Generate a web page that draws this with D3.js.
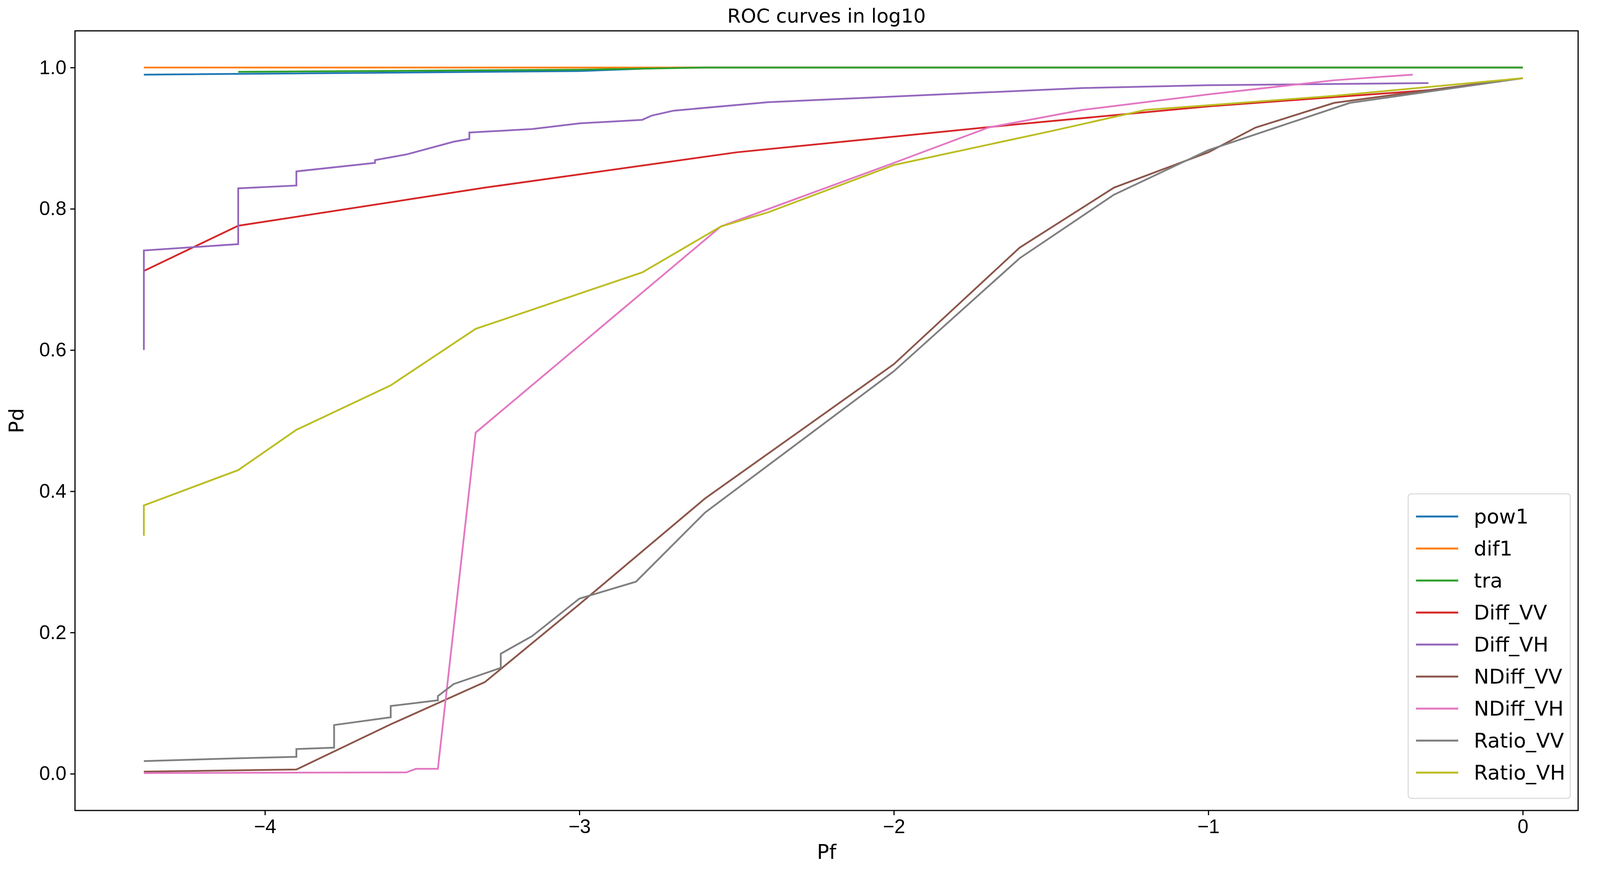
<!DOCTYPE html>
<html><head><meta charset="utf-8">
<script src="https://cdn.jsdelivr.net/npm/d3@7"></script>
<style>body{margin:0;background:#fff}svg{font-family:"DejaVu Sans",sans-serif}</style>
</head><body><svg width="4100" height="2231"></svg>
<script>
var names = ['pow1','dif1','tra','Diff_VV','Diff_VH','NDiff_VV','NDiff_VH','Ratio_VV','Ratio_VH'];
var colors = ['#1f77b4','#ff7f0e','#2ca02c','#d62728','#9467bd','#8c564b','#e377c2','#7f7f7f','#bcbd22'];
var xTicks = [-4,-3,-2,-1,0];
var yTicks = [0,0.2,0.4,0.6,0.8,1.0];

var pow1 = [[-4.385,0.990],[-3,0.995],[-2.7,1.0],[0,1.0]];
var dif1 = [[-4.385,1.0],[0,1.0]];
var tra = [[-4.085,0.994],[-3,0.997],[-2.6,1.0],[0,1.0]];
var diffVV = [[-4.385,0.712],[-4.085,0.776],[-3.3,0.83],[-2.5,0.88],[-1.6,0.92],[-1.0,0.945],[-0.3,0.968]];
var diffVH = [[-4.385,0.6],[-4.385,0.741],[-4.085,0.75],[-4.085,0.829],[-3.9,0.833],[-3.9,0.853],[-3.65,0.865],[-3.65,0.869],[-3.55,0.877],[-3.4,0.895],[-3.35,0.899],[-3.35,0.908],[-3.15,0.913],[-3.0,0.921],[-2.8,0.926],[-2.77,0.932],[-2.7,0.939],[-2.4,0.951],[-2,0.959],[-1.7,0.965],[-1.4,0.971],[-1,0.975],[-0.3,0.978]];
var ndiffVV = [[-4.385,0.003],[-3.9,0.006],[-3.6,0.07],[-3.3,0.13],[-3.0,0.24],[-2.6,0.39],[-2,0.58],[-1.6,0.745],[-1.3,0.83],[-1.0,0.88],[-0.85,0.915],[-0.6,0.95],[-0.3,0.968],[0,0.985]];
var ndiffVH = [[-4.385,0.001],[-3.55,0.002],[-3.52,0.007],[-3.45,0.007],[-3.33,0.483],[-2.55,0.775],[-2,0.865],[-1.7,0.915],[-1.4,0.94],[-1,0.962],[-0.6,0.982],[-0.35,0.99]];
var ratioVV = [[-4.385,0.018],[-4.085,0.022],[-3.9,0.024],[-3.9,0.035],[-3.78,0.037],[-3.78,0.069],[-3.6,0.08],[-3.6,0.096],[-3.45,0.104],[-3.45,0.11],[-3.4,0.127],[-3.25,0.15],[-3.25,0.17],[-3.15,0.195],[-3.0,0.248],[-2.82,0.272],[-2.6,0.37],[-2,0.57],[-1.6,0.73],[-1.3,0.82],[-1,0.883],[-0.55,0.95],[0,0.985]];
var ratioVH = [[-4.385,0.337],[-4.385,0.38],[-4.085,0.43],[-3.9,0.487],[-3.6,0.55],[-3.33,0.63],[-2.8,0.71],[-2.55,0.775],[-2.4,0.795],[-2,0.862],[-1.5,0.91],[-1.2,0.94],[-0.6,0.96],[0,0.985]];
var series = [pow1,dif1,tra,diffVV,diffVH,ndiffVV,ndiffVH,ratioVV,ratioVH];

var L = 192, R = 4040, T = 79, B = 2076;
var svg = d3.select('svg');
var x = d3.scaleLinear().domain([-4.604,0.176]).range([L,R]);
var y = d3.scaleLinear().domain([-0.052,1.052]).range([B,T]);

var line = d3.line().x(function(d){ return x(d[0]); }).y(function(d){ return y(d[1]); });
svg.append('g').selectAll('path').data(series).enter().append('path')
  .attr('d', line).attr('fill','none').attr('stroke-width',4.5)
  .attr('stroke', function(d,i){ return colors[i]; });

var fmtX = function(d){ return d < 0 ? '\u2212' + Math.abs(d) : String(d); };
var gx = svg.append('g').attr('transform','translate(0,'+B+')')
  .call(d3.axisBottom(x).tickValues(xTicks).tickFormat(fmtX).tickSize(12).tickPadding(10));
var gy = svg.append('g').attr('transform','translate('+L+',0)')
  .call(d3.axisLeft(y).tickValues(yTicks).tickFormat(d3.format('.1f')).tickSize(12).tickPadding(10));
[gx,gy].forEach(function(g){
  g.select('.domain').remove();
  g.selectAll('line').attr('stroke','#000').attr('stroke-width',3);
  g.selectAll('text').attr('font-size',50).attr('fill','#000');
});
svg.append('rect').attr('x',L).attr('y',T).attr('width',R-L).attr('height',B-T)
  .attr('fill','none').attr('stroke','#000').attr('stroke-width',3);

svg.append('text').attr('x',(L+R)/2).attr('y',58).attr('text-anchor','middle').attr('font-size',50).text('ROC curves in log10');
svg.append('text').attr('x',(L+R)/2).attr('y',2200).attr('text-anchor','middle').attr('font-size',52).text('Pf');
svg.append('text').attr('transform','translate(60,'+((T+B)/2)+') rotate(-90)').attr('text-anchor','middle').attr('font-size',52).text('Pd');

var lg = svg.append('g').attr('transform','translate(3605,1265)');
lg.append('rect').attr('width',415).attr('height',780).attr('rx',8)
  .attr('fill','#fff').attr('stroke','#ddd').attr('stroke-width',3);
var item = lg.selectAll('g.it').data(names).enter().append('g')
  .attr('transform', function(d,i){ return 'translate(0,'+(58+i*82)+')'; });
item.append('line').attr('x1',20).attr('x2',128).attr('stroke-width',5)
  .attr('stroke', function(d,i){ return colors[i]; });
item.append('text').attr('x',168).attr('dy','0.35em').attr('font-size',52).text(function(d){ return d; });
</script></body></html>
